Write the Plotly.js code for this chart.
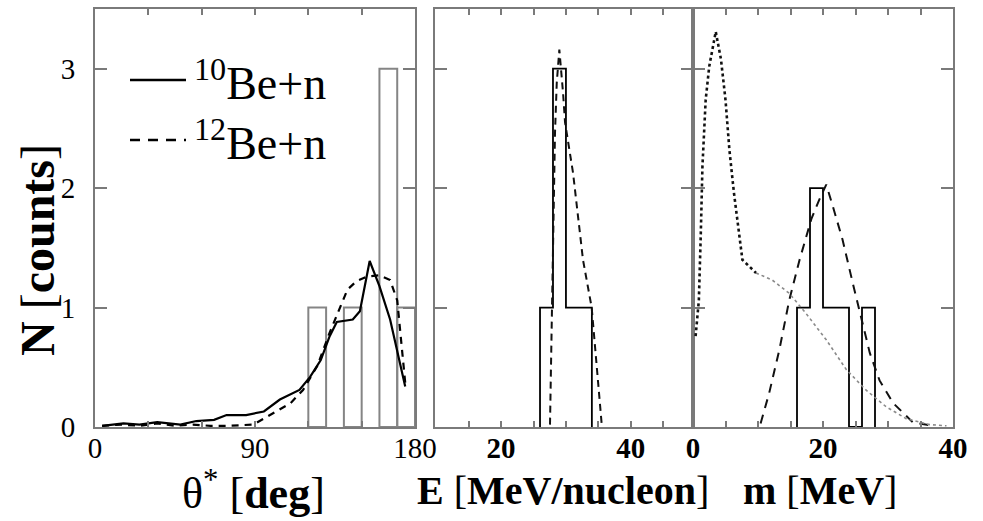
<!DOCTYPE html>
<html>
<head>
<meta charset="utf-8">
<script src="https://cdn.plot.ly/plotly-3.0.1.min.js"></script>
<style>html,body{margin:0;padding:0;background:#fff;}#chart{width:983px;height:521px;}</style>
</head>
<body>
<div id="chart"></div>
<script>
// ---------- data ----------
// left panel: theta* histogram (bins) and model curves
const thetaBinLo = [120, 140, 160, 170];
const thetaBinHi = [130, 150, 170, 180];
const thetaCounts = [1, 1, 3, 1];

const theta10 = [4, 16, 25, 35, 48, 57, 67, 74, 85, 95, 104, 115, 121, 127, 132, 136, 145, 149, 154.5, 160, 166, 174.5];
const be10    = [0.01, 0.03, 0.02, 0.04, 0.02, 0.05, 0.06, 0.10, 0.10, 0.13, 0.23, 0.31, 0.42, 0.56, 0.76, 0.88, 0.90, 0.97, 1.39, 1.18, 0.90, 0.34];

const theta12 = [4, 15, 25, 35, 45, 55, 65, 75, 89, 95, 102, 110, 117, 125, 132, 138, 142, 147, 153, 160, 166, 170, 174.5];
const be12    = [0.01, 0.02, 0.01, 0.03, 0.01, 0.02, 0.01, 0.01, 0.02, 0.07, 0.13, 0.20, 0.31, 0.51, 0.79, 1.01, 1.15, 1.22, 1.26, 1.27, 1.23, 1.06, 0.37];

// legend labels
const seriesNames = ['<sup>10</sup>Be+n', '<sup>12</sup>Be+n'];

// middle panel: E [MeV/nucleon]
const eEdges = [26, 28, 30, 32, 34];
const eCounts = [1, 3, 1, 1];
const eCurveX = [27.54, 27.80, 28.05, 28.31, 28.58, 28.98, 29.55, 29.86, 31.09, 32.63, 33.97, 34.75, 35.52];
const eCurveY = [0.02, 0.79, 1.62, 2.46, 2.88, 3.16, 2.80, 2.55, 2.13, 1.40, 1.00, 0.50, 0.02];

// right panel: m [MeV]
const mEdges = [16, 18, 20, 22, 24, 26, 28];
const mCounts = [1, 2, 1, 1, 0, 1];
const mDotX = [0.4, 0.9, 1.2, 1.45, 1.95, 2.5, 3.5, 4.3, 5.0, 5.6, 6.3, 7.1, 7.6, 9.7];
const mDotY = [0.76, 1.06, 1.62, 2.18, 2.74, 3.02, 3.31, 3.08, 2.74, 2.32, 1.96, 1.62, 1.40, 1.29];
const mTailX = [9.7, 12.2, 14.8, 17.4, 20.5, 23.6, 26.6, 29.7, 32.8, 36.4, 39];
const mTailY = [1.29, 1.23, 1.12, 0.95, 0.73, 0.48, 0.31, 0.17, 0.07, 0.02, 0.01];
const mDashX = [10.4, 11.7, 13.3, 14.8, 16.4, 18.2, 19.4, 20.5, 21.5, 23.0, 24.6, 25.9, 27.2, 28.7, 30.8, 33.8, 36.9];
const mDashY = [0.03, 0.28, 0.65, 1.06, 1.40, 1.74, 1.90, 2.03, 1.85, 1.57, 1.20, 0.92, 0.62, 0.39, 0.20, 0.04, 0.01];

// ticks
const yTicks = [0, 1, 2, 3];
const thetaTicks = [0, 90, 180];
const thetaMinor = [30, 60, 120, 150];
const eTicks = [20, 40];
const eMinor = [15, 25, 30, 35, 45];
const mTicks = [0, 20, 40];
const mMinor = [5, 10, 15, 25, 30, 35];

// ---------- helpers ----------
function stepXY(edges, counts) {
  const xs = [edges[0]], ys = [0];
  for (let i = 0; i < counts.length; i++) { xs.push(edges[i]); ys.push(counts[i]); }
  xs.push(edges[edges.length - 1]); ys.push(counts[counts.length - 1]);
  xs.push(edges[edges.length - 1]); ys.push(0);
  return {x: xs, y: ys};
}
const eStep = stepXY(eEdges, eCounts);
const mStep = stepXY(mEdges, mCounts);

const FONT = 'Liberation Serif, Times New Roman, serif';
const FRAME = '#7a7a7a';

const traces = [
  {type: 'bar', x: thetaBinLo.map((v, i) => (v + thetaBinHi[i]) / 2), y: thetaCounts,
   width: thetaBinLo.map((v, i) => thetaBinHi[i] - v),
   marker: {color: 'rgba(0,0,0,0)', line: {color: '#858585', width: 2}},
   xaxis: 'x', yaxis: 'y', showlegend: false, hoverinfo: 'skip'},
  {type: 'scatter', mode: 'lines', x: theta10, y: be10, name: seriesNames[0],
   line: {color: '#000', width: 2.2}, xaxis: 'x', yaxis: 'y', showlegend: false},
  {type: 'scatter', mode: 'lines', x: theta12, y: be12, name: seriesNames[1],
   line: {color: '#000', width: 2.2, dash: '7px,6px'}, xaxis: 'x', yaxis: 'y', showlegend: false},

  {type: 'scatter', mode: 'lines', x: eStep.x, y: eStep.y, line: {color: '#000', width: 1.8, shape: 'hv'},
   xaxis: 'x2', yaxis: 'y2', showlegend: false},
  {type: 'scatter', mode: 'lines', x: eCurveX, y: eCurveY, line: {color: '#111', width: 2, dash: '7px,5px'},
   xaxis: 'x2', yaxis: 'y2', showlegend: false},

  {type: 'scatter', mode: 'lines', x: mStep.x, y: mStep.y, line: {color: '#000', width: 1.8, shape: 'hv'},
   xaxis: 'x3', yaxis: 'y3', showlegend: false},
  {type: 'scatter', mode: 'lines', x: mDashX, y: mDashY, line: {color: '#111', width: 2, dash: '9px,7px'},
   xaxis: 'x3', yaxis: 'y3', showlegend: false},
  {type: 'scatter', mode: 'lines', x: mDotX, y: mDotY, line: {color: '#111', width: 2.6, dash: 'dot'},
   xaxis: 'x3', yaxis: 'y3', showlegend: false},
  {type: 'scatter', mode: 'lines', x: mTailX, y: mTailY, line: {color: '#8a8a8a', width: 1.6, dash: 'dot'},
   xaxis: 'x3', yaxis: 'y3', showlegend: false}
];

const W = 983, H = 521;
const px = v => v / W, py = v => 1 - v / H;
const yDom = [py(427), py(9)];

function xAxis(dom, range, tv, minorVals, bold) {
  return {domain: dom, range: range, tickmode: 'array', tickvals: tv, ticktext: tv.map(String),
    ticks: 'inside', ticklen: 6, tickwidth: 2, tickcolor: FRAME,
    minor: {tickmode: 'array', tickvals: minorVals, ticks: 'inside', ticklen: 6, tickwidth: 2,
            tickcolor: FRAME, showgrid: false},
    showline: true, linecolor: FRAME, linewidth: 2, mirror: 'ticks',
    showgrid: false, zeroline: false, ticklabelstandoff: -6,
    tickfont: {family: FONT, size: 29, color: '#000', weight: bold ? 'bold' : 'normal'}};
}
function yAxis(anchor, labels) {
  return {domain: yDom, range: [0, 3.5], anchor: anchor, tickmode: 'array', tickvals: yTicks,
    showticklabels: labels, ticks: 'inside', ticklen: 12, tickwidth: 2, tickcolor: FRAME,
    showline: true, linecolor: FRAME, linewidth: 2, mirror: 'ticks',
    showgrid: false, zeroline: false, ticklabelstandoff: 12,
    tickfont: {family: FONT, size: 29, color: '#000'}};
}

// legend drawn as line samples + labels
const legendShapes = [
  {type: 'line', xref: 'paper', yref: 'paper', x0: px(130), x1: px(186), y0: py(80), y1: py(80),
   line: {color: '#000', width: 2.6}},
  {type: 'line', xref: 'paper', yref: 'paper', x0: px(130), x1: px(186), y0: py(140), y1: py(140),
   line: {color: '#000', width: 2.6, dash: '10px,8px'}}
];

const layout = {
  width: W, height: H, margin: {l: 0, r: 0, t: 0, b: 0},
  paper_bgcolor: '#fff', plot_bgcolor: 'rgba(0,0,0,0)',
  font: {family: FONT, color: '#000'},
  xaxis: Object.assign(xAxis([px(95), px(415)], [0, 180], thetaTicks, thetaMinor, false), {anchor: 'y'}),
  yaxis: yAxis('x', true),
  xaxis2: Object.assign(xAxis([px(435), px(693)], [9.8, 49.6], eTicks, eMinor, true), {anchor: 'y2'}),
  yaxis2: yAxis('x2', false),
  xaxis3: Object.assign(xAxis([px(693), px(953)], [0, 40], mTicks, mMinor, true), {anchor: 'y3'}),
  yaxis3: yAxis('x3', false),
  showlegend: false,
  shapes: legendShapes,
  annotations: [
    {text: seriesNames[0], xref: 'paper', yref: 'paper', x: px(192), y: py(80),
     xanchor: 'left', yanchor: 'middle', showarrow: false,
     font: {family: FONT, size: 46, color: '#000'}},
    {text: seriesNames[1], xref: 'paper', yref: 'paper', x: px(192), y: py(140),
     xanchor: 'left', yanchor: 'middle', showarrow: false,
     font: {family: FONT, size: 46, color: '#000'}},
    {text: '<b>N</b> [<b>counts</b>]', textangle: -90, xref: 'paper', yref: 'paper',
     x: px(37), y: py(250), xanchor: 'center', yanchor: 'middle', showarrow: false,
     font: {family: FONT, size: 48, color: '#000'}},
    {text: 'θ<sup>*</sup> [<b>deg</b>]', xref: 'paper', yref: 'paper',
     x: px(253), y: py(490), xanchor: 'center', yanchor: 'middle', showarrow: false,
     font: {family: FONT, size: 44, color: '#000'}},
    {text: '<b>E</b> [<b>MeV/nucleon</b>]', xref: 'paper', yref: 'paper',
     x: px(563), y: py(490), xanchor: 'center', yanchor: 'middle', showarrow: false,
     font: {family: FONT, size: 40, color: '#000'}},
    {text: '<b>m</b> [<b>MeV</b>]', xref: 'paper', yref: 'paper',
     x: px(820), y: py(490), xanchor: 'center', yanchor: 'middle', showarrow: false,
     font: {family: FONT, size: 40, color: '#000'}}
  ]
};

Plotly.newPlot('chart', traces, layout, {staticPlot: true, displayModeBar: false});
</script>
</body>
</html>
